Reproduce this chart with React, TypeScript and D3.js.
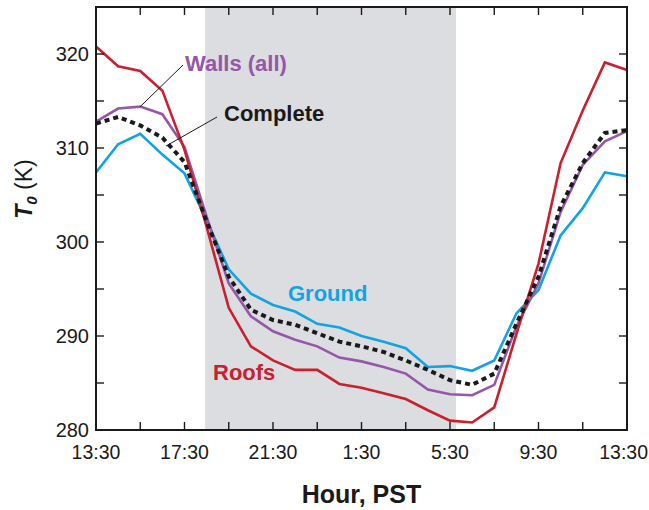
import React from 'react';
import * as d3 from 'd3';

// hours after 13:30 PST
const hourOffset = [0, 1, 2, 3, 4, 5, 6, 7, 8, 9, 10, 11, 12, 13, 14, 15, 16, 17, 18, 19, 20, 21, 22, 23, 24];

const roofs = [320.8, 318.7, 318.2, 316.1, 309.8, 301.6, 293.0, 288.9, 287.4, 286.4, 286.4, 284.9, 284.5,
  283.9, 283.3, 282.1, 281.0, 280.8, 282.4, 290.2, 297.7, 308.4, 314.0, 319.1, 318.3];
const walls = [312.8, 314.2, 314.4, 313.6, 310.1, 302.7, 295.6, 292.1, 290.5, 289.6, 288.9, 287.7, 287.3,
  286.7, 286.0, 284.3, 283.8, 283.7, 284.8, 291.0, 295.6, 303.2, 308.2, 310.7, 311.8];
const ground = [307.4, 310.4, 311.5, 309.3, 307.3, 302.3, 297.1, 294.5, 293.3, 292.6, 291.3, 290.9, 290.0,
  289.4, 288.7, 286.7, 286.8, 286.3, 287.4, 292.4, 294.9, 300.7, 303.6, 307.4, 307.0];
const complete = [312.6, 313.3, 312.4, 311.1, 308.5, 302.2, 296.3, 292.8, 291.7, 291.2, 290.3, 289.4, 288.9,
  288.3, 287.4, 286.4, 285.3, 284.8, 286.0, 291.3, 296.3, 303.8, 308.4, 311.6, 311.9];

const xTickLabels = ['13:30', '17:30', '21:30', '1:30', '5:30', '9:30', '13:30'];
const yTickLabels = [280, 290, 300, 310, 320];
const nightSpan = [4.93, 16.27];

const W = 649;
const H = 510;
const margin = { left: 96, right: 22, top: 7, bottom: 80 };
const font = '"Liberation Sans", Arial, Helvetica, sans-serif';

export default function App() {
  const x = d3.scaleLinear().domain([0, 24]).range([margin.left, W - margin.right]);
  const y = d3.scaleLinear().domain([280, 325]).range([H - margin.bottom, margin.top]);
  const line = (vals: number[]) =>
    d3.line<number>().x((_, i) => x(hourOffset[i])).y((d) => y(d))(vals) as string;

  const x0 = x.range()[0], x1 = x.range()[1];
  const y0 = y.range()[0], y1 = y.range()[1];
  const xTicks = d3.range(0, 25, 2);
  const yTicks = d3.range(280, 326, 5);
  const tl = 8;

  return (
    <svg width={W} height={H} style={{ position: 'absolute', left: 0, top: 0, background: '#fff' }}
      fontFamily={font}>
      <rect x={x(nightSpan[0])} y={y1} width={x(nightSpan[1]) - x(nightSpan[0])} height={y0 - y1} fill="#dcdde0" />

      <path d={line(ground)} fill="none" stroke="#12a3e3" strokeWidth={2.6} />
      <path d={line(walls)} fill="none" stroke="#9557a8" strokeWidth={2.6} />
      <path d={line(roofs)} fill="none" stroke="#c8202f" strokeWidth={2.6} />
      <path d={line(complete)} fill="none" stroke="#1a1a1a" strokeWidth={4} strokeDasharray="5 4" />

      {/* ticks, pointing inward on all four sides */}
      {xTicks.map((t) => (
        <g key={'xt' + t} stroke="#1a1a1a" strokeWidth={1.4}>
          <line x1={x(t)} x2={x(t)} y1={y0} y2={y0 - tl} />
          <line x1={x(t)} x2={x(t)} y1={y1} y2={y1 + tl} />
        </g>
      ))}
      {yTicks.map((t) => (
        <g key={'yt' + t} stroke="#1a1a1a" strokeWidth={1.4}>
          <line x1={x0} x2={x0 + tl} y1={y(t)} y2={y(t)} />
          <line x1={x1} x2={x1 - tl} y1={y(t)} y2={y(t)} />
        </g>
      ))}
      <rect x={x0} y={y1} width={x1 - x0} height={y0 - y1} fill="none" stroke="#1a1a1a" strokeWidth={2} />

      {xTickLabels.map((lab, i) => {
        const last = i === xTickLabels.length - 1;
        return (
          <text key={'xl' + i} x={last ? W - 1 : x(i * 4)} y={y0 + 29}
            textAnchor={last ? 'end' : 'middle'} fontSize={19.5} fill="#1a1a1a">
            {lab}
          </text>
        );
      })}
      {yTickLabels.map((v) => (
        <text key={'yl' + v} x={x0 - 7} y={y(v) + 7} textAnchor="end" fontSize={20} fill="#1a1a1a">
          {v}
        </text>
      ))}

      <text x={(x0 + x1) / 2} y={503} textAnchor="middle" fontSize={25} fontWeight="bold" fill="#1a1a1a">
        Hour, PST
      </text>
      <text transform="translate(32,189) rotate(-90)" textAnchor="middle" fontSize={23} fill="#1a1a1a">
        <tspan fontWeight="bold" fontStyle="italic">T</tspan>
        <tspan fontWeight="bold" fontStyle="italic" fontSize={15} dy={5}>0</tspan>
        <tspan dy={-5}> (K)</tspan>
      </text>

      {/* series labels */}
      <line x1={183} y1={65} x2={x(2)} y2={y(walls[2])} stroke="#1a1a1a" strokeWidth={1} />
      <text x={185} y={71} fontSize={22} fontWeight="bold" fill="#9557a8">Walls (all)</text>
      <line x1={217} y1={117} x2={166} y2={146} stroke="#1a1a1a" strokeWidth={1} />
      <text x={224} y={121} fontSize={22} fontWeight="bold" fill="#1a1a1a">Complete</text>
      <text x={288} y={301} fontSize={22} fontWeight="bold" fill="#12a3e3">Ground</text>
      <text x={213} y={380} fontSize={22} fontWeight="bold" fill="#c8202f">Roofs</text>
    </svg>
  );
}
